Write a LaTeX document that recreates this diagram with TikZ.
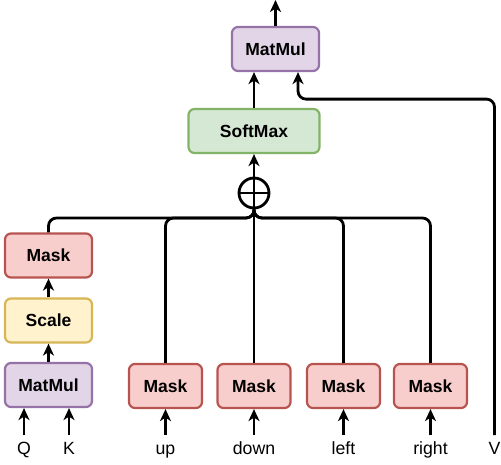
\documentclass[tikz,border=0pt]{standalone}
\usepackage{fontspec}
\setmainfont{Liberation Sans}
\usetikzlibrary{arrows.meta}
\definecolor{purpfill}{HTML}{E1D5E7}
\definecolor{purpline}{HTML}{9673A6}
\definecolor{greenfill}{HTML}{D5E8D4}
\definecolor{greenline}{HTML}{82B366}
\definecolor{redfill}{HTML}{F8CECC}
\definecolor{redline}{HTML}{B85450}
\definecolor{yelfill}{HTML}{FFF2CC}
\definecolor{yelline}{HTML}{D6B656}
\tikzset{
	blk/.style={draw, rounded corners=6pt, line width=2.2pt, minimum height=44pt, inner sep=0pt, font=\bfseries\fontsize{17.5}{20}\selectfont},
	mmbox/.style={blk, fill=purpfill, draw=purpline, minimum width=87pt},
	smbox/.style={blk, fill=greenfill, draw=greenline, minimum width=131pt},
	maskbox/.style={blk, fill=redfill, draw=redline, minimum width=73pt},
	scalebox/.style={blk, fill=yelfill, draw=yelline, minimum width=87pt},
	wire/.style={line width=2.8pt, rounded corners=8pt},
	flow/.style={line width=2.8pt, -{Stealth[length=12pt,width=11pt,inset=3.5pt]}},
	lab/.style={inner sep=0pt, outer ysep=6pt, text height=13pt, text depth=4pt, anchor=base, font=\fontsize{17.7}{20}\selectfont},
}
\begin{document}
\begin{tikzpicture}[x=1pt,y=-1pt]
			\useasboundingbox (0,0) rectangle (501,464);
			\def\colx{48.5}
			\def\masky{386}
			\def\laby{454}
			% left branch: Q, K -> MatMul -> Scale -> Mask
			\node[mmbox] (mm1) at (\colx,385) {MatMul};
			\node[scalebox] (sc) at (\colx,320.5) {Scale};
			\node[maskbox, minimum width=87pt] (mask0) at (\colx,255.5) {Mask};
			\node[lab] (q) at (24,\laby) {Q};
			\node[lab] (k) at (69,\laby) {K};
			\draw[flow] (q.north) -- (q.north |- mm1.south);
			\draw[flow] (k.north) -- (k.north |- mm1.south);
			\draw[flow] (mm1.north) -- (sc.south);
			\draw[flow] (sc.north) -- (mask0.south);
			% top part
			\node[draw, circle, line width=2.8pt, minimum size=30pt, inner sep=0pt] (plus) at (254,193) {};
			\draw[line width=2.5pt] (plus.north) -- (plus.south) (plus.west) -- (plus.east);
			\node[smbox] (sm) at (254,131) {SoftMax};
			\node[mmbox] (mm2) at (275.5,49) {MatMul};
			\coordinate (out) at (275.5,0);
			\coordinate (bus) at (254,218);
			\draw[flow] (plus.north) -- (sm.south);
			\draw[flow] (sm.north) -- (sm.north |- mm2.south);
			\draw[flow] (mm2.north) -- (out);
			% the four masks
			\foreach \x/\t [count=\i] in {165.5/up,254/down,343.5/left,430.5/right}{
				\node[maskbox] (m\i) at (\x,\masky) {Mask};
				\node[lab] (l\i) at (\x,\laby) {\t};
				\draw[flow] (l\i.north) -- (m\i.south);
			}
			\foreach \i in {1,3,4}\draw[wire] (m\i.north) |- (bus) -- (plus.south);
			\draw[wire] (mask0.north) |- (bus) -- (plus.south);
			\draw[wire] (m2.north) -- (plus.south);
			% V goes round to the top MatMul
			\node[lab] (v) at (494.5,\laby) {V};
			\draw[wire] (v.north) |- ([xshift=22.5pt,yshift=-27pt]mm2.south) -- ([xshift=22.5pt,yshift=-10pt]mm2.south);
			\draw[flow] ([xshift=22.5pt,yshift=-10pt]mm2.south) -- ([xshift=22.5pt]mm2.south);
\end{tikzpicture}
\end{document}
